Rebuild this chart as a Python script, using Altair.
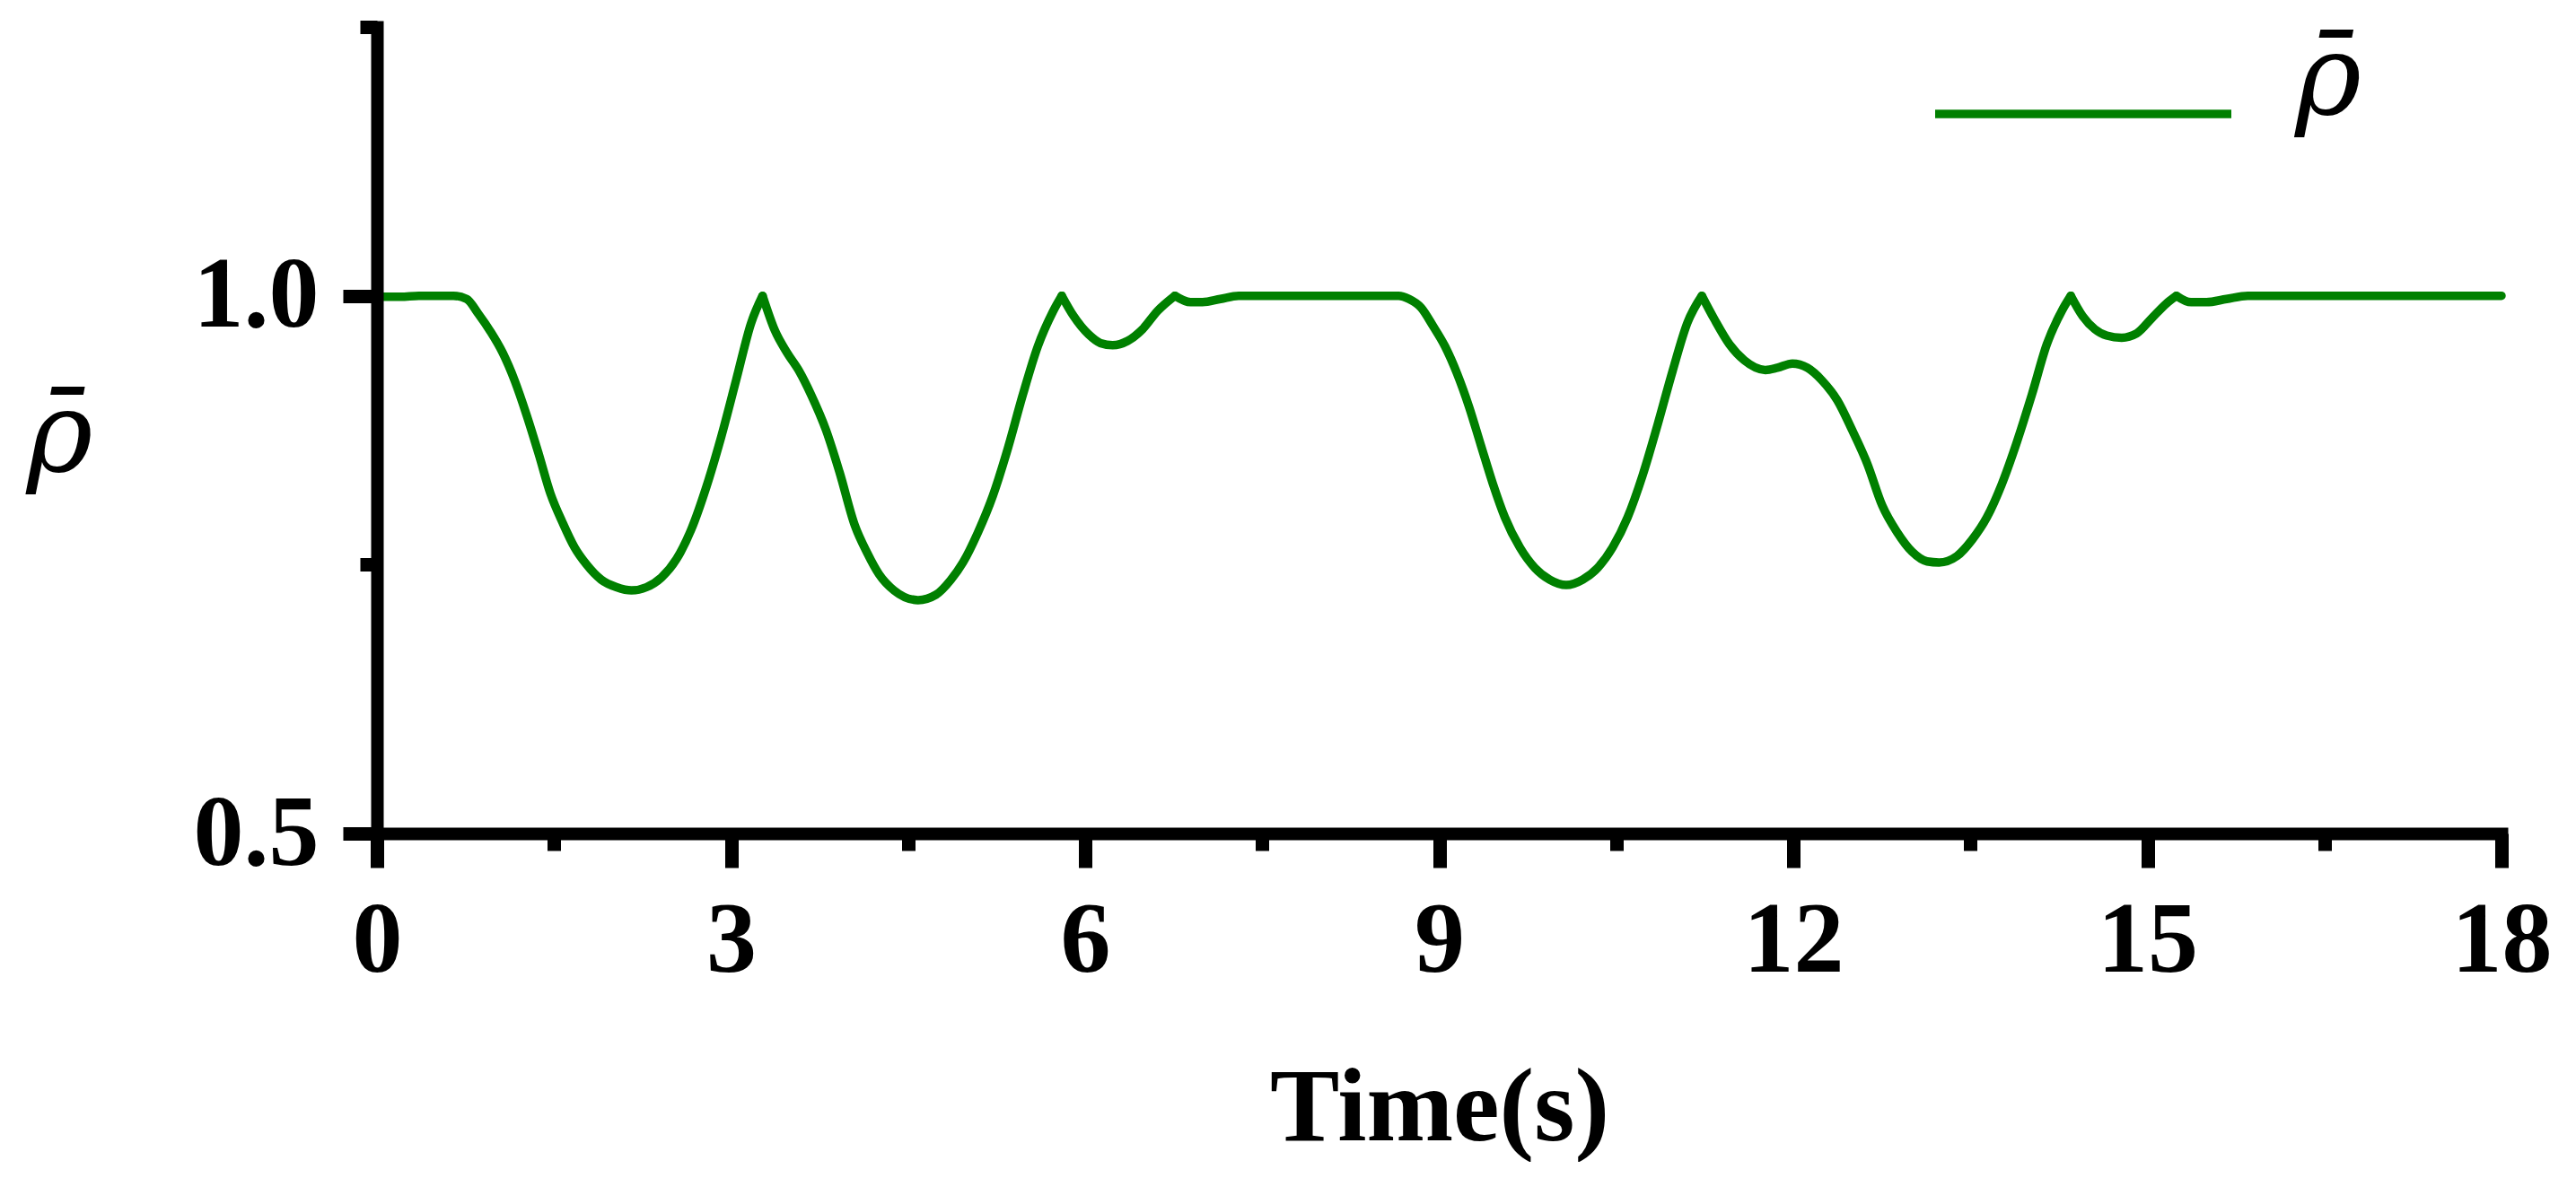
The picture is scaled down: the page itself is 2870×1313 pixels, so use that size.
import altair as alt
import pandas as pd

# ---- data ----
time_s = [0.00, 0.05, 0.20, 0.355, 0.50, 0.647, 0.76, 0.86, 0.96, 1.065, 1.167, 1.268,
          1.37, 1.47, 1.573, 1.674, 1.776, 1.90, 2.03, 2.156, 2.283, 2.41, 2.537, 2.664,
          2.79, 2.917, 3.044, 3.171, 3.267, 3.374, 3.475, 3.577, 3.678, 3.805, 3.919,
          4.05, 4.153, 4.254, 4.381, 4.584, 4.736, 4.863, 4.965, 5.092, 5.218, 5.345,
          5.472, 5.599, 5.726, 5.802, 5.903, 6.03, 6.13, 6.233, 6.36, 6.487, 6.614,
          6.76, 6.893, 6.994, 7.146, 7.30, 8.655, 8.744, 8.846, 8.947, 9.049, 9.15,
          9.252, 9.353, 9.455, 9.556, 9.683, 9.81, 9.936, 10.076, 10.215, 10.342,
          10.469, 10.596, 10.723, 10.85, 10.977, 11.103, 11.225, 11.332, 11.458,
          11.585, 11.763, 11.865, 11.992, 12.119, 12.245, 12.372, 12.499, 12.626,
          12.753, 12.88, 13.006, 13.133, 13.235, 13.387, 13.514, 13.64, 13.767,
          13.894, 14.021, 14.148, 14.275, 14.351, 14.452, 14.554, 14.655, 14.782,
          14.909, 15.036, 15.163, 15.246, 15.37, 15.50, 15.67, 15.85, 18.00]
rho_bar = [1.000, 0.999, 0.999, 1.000, 1.000, 1.000, 0.997, 0.983, 0.967, 0.947, 0.921, 0.889,
           0.853, 0.816, 0.789, 0.766, 0.750, 0.736, 0.729, 0.726, 0.729, 0.738, 0.755, 0.783,
           0.822, 0.869, 0.922, 0.975, 1.000, 0.967, 0.947, 0.930, 0.908, 0.875, 0.836,
           0.786, 0.761, 0.741, 0.726, 0.717, 0.722, 0.736, 0.752, 0.780, 0.814, 0.858,
           0.908, 0.953, 0.985, 1.000, 0.981, 0.964, 0.956, 0.954, 0.958, 0.969, 0.986,
           1.000, 0.994, 0.994, 0.997, 1.000, 1.000, 0.997, 0.989, 0.972, 0.953, 0.928,
           0.897, 0.861, 0.825, 0.794, 0.766, 0.747, 0.736, 0.731, 0.736, 0.747,
           0.766, 0.794, 0.833, 0.880, 0.930, 0.975, 1.000, 0.978, 0.955,
           0.940, 0.931, 0.933, 0.937, 0.933, 0.921, 0.903, 0.875, 0.844,
           0.805, 0.780, 0.762, 0.753, 0.752, 0.758, 0.773, 0.794, 0.825,
           0.864, 0.908, 0.955, 0.986, 1.000, 0.981, 0.969, 0.963, 0.961,
           0.965, 0.979, 0.993, 1.000, 0.994, 0.994, 0.997, 1.000, 1.000]

# sharp peaks (cusps) of the curve, where the smooth pieces meet
cusp_times = [3.267, 5.802, 6.76, 11.225, 14.351, 15.246]

series_name = "\u03c1\u0304"

x_major = [0, 3, 6, 9, 12, 15, 18]
x_minor = [1.5, 4.5, 7.5, 10.5, 13.5, 16.5]
y_major = [0.5, 1.0]
y_minor = [0.75, 1.25]

# build the table: each cusp point closes one smooth piece and opens the next
rows = []
for t, v in zip(time_s, rho_bar):
    seg = sum(1 for c in cusp_times if c < t)
    rows.append({"t": t, "v": v, "s": series_name, "seg": seg})
    if t in cusp_times:
        rows.append({"t": t, "v": v, "s": series_name, "seg": seg + 1})
df = pd.DataFrame(rows)
minor_df = pd.DataFrame({"t": x_minor[:2], "v": y_minor})

FONT = "Liberation Serif"
SYM_FONT = "DejaVu Serif"
x_scale = alt.Scale(domain=[0, 18], nice=False, zero=False)
y_scale = alt.Scale(domain=[0.5, 1.25], nice=False, zero=False)

line = alt.Chart(df).mark_line(strokeWidth=9.5, strokeCap="round", strokeJoin="round",
                               interpolate="monotone").encode(
    x=alt.X("t:Q", scale=x_scale, axis=alt.Axis(
        values=x_major, format="d", orient="bottom", grid=False,
        tickSize=38, tickWidth=15, tickColor="black",
        domainWidth=14, domainColor="black", domainCap="square",
        labelFont=FONT, labelFontWeight="bold", labelFontSize=112, labelColor="black",
        labelPadding=27, labelFlush=False, labelOverlap=False,
        title="Time(s)", titleFont=FONT, titleFontWeight="bold", titleFontSize=116,
        titleColor="black", titleBaseline="alphabetic", titleY=341, zindex=1)),
    y=alt.Y("v:Q", scale=y_scale, axis=alt.Axis(
        values=y_major, format=".1f", orient="left", grid=False,
        tickSize=38, tickWidth=15, tickColor="black",
        domainWidth=14, domainColor="black", domainCap="square",
        labelFont=FONT, labelFontWeight="bold", labelFontSize=112, labelColor="black",
        labelPadding=27, labelFlush=False, labelOverlap=False,
        title=series_name, titleFont=SYM_FONT, titleFontStyle="italic", titleFontWeight="normal",
        titleFontSize=126, titleColor="black", titleAngle=0, titleAlign="center",
        titleBaseline="alphabetic", titleX=-354, titleY=494, zindex=1)),
    detail=alt.Detail("seg:O"),
    color=alt.Color("s:N", scale=alt.Scale(domain=[series_name], range=["#008000"]),
                    legend=alt.Legend(
                        orient="none", legendX=1731, legendY=-73, title=None, padding=0,
                        symbolType="stroke", symbolSize=108900, symbolStrokeWidth=9.5,
                        labelFont=SYM_FONT, labelFontStyle="italic", labelFontSize=126,
                        labelColor="black", labelBaseline="alphabetic", labelOffset=66,
                        labelLimit=0)),
)

minor = alt.Chart(minor_df).mark_point(opacity=0).encode(
    x=alt.X("t:Q", scale=x_scale, axis=alt.Axis(
        values=x_minor, orient="bottom", grid=False, labels=False, domain=False,
        tickSize=19, tickWidth=15, tickColor="black", title=None, zindex=1)),
    y=alt.Y("v:Q", scale=y_scale, axis=alt.Axis(
        values=y_minor, orient="left", grid=False, labels=False, domain=False,
        tickSize=19, tickWidth=15, tickColor="black", title=None, zindex=1)),
)

chart = alt.layer(line, minor).resolve_axis(x="independent", y="independent").properties(
    width=2367, height=899,
    autosize=alt.AutoSizeParams(type="none"),
    padding={"left": 412, "top": 22, "right": 60, "bottom": 366},
).configure(background="white").configure_view(stroke="transparent", strokeWidth=0)

chart.save("out.html", embed_options={"renderer": "svg", "actions": False})
